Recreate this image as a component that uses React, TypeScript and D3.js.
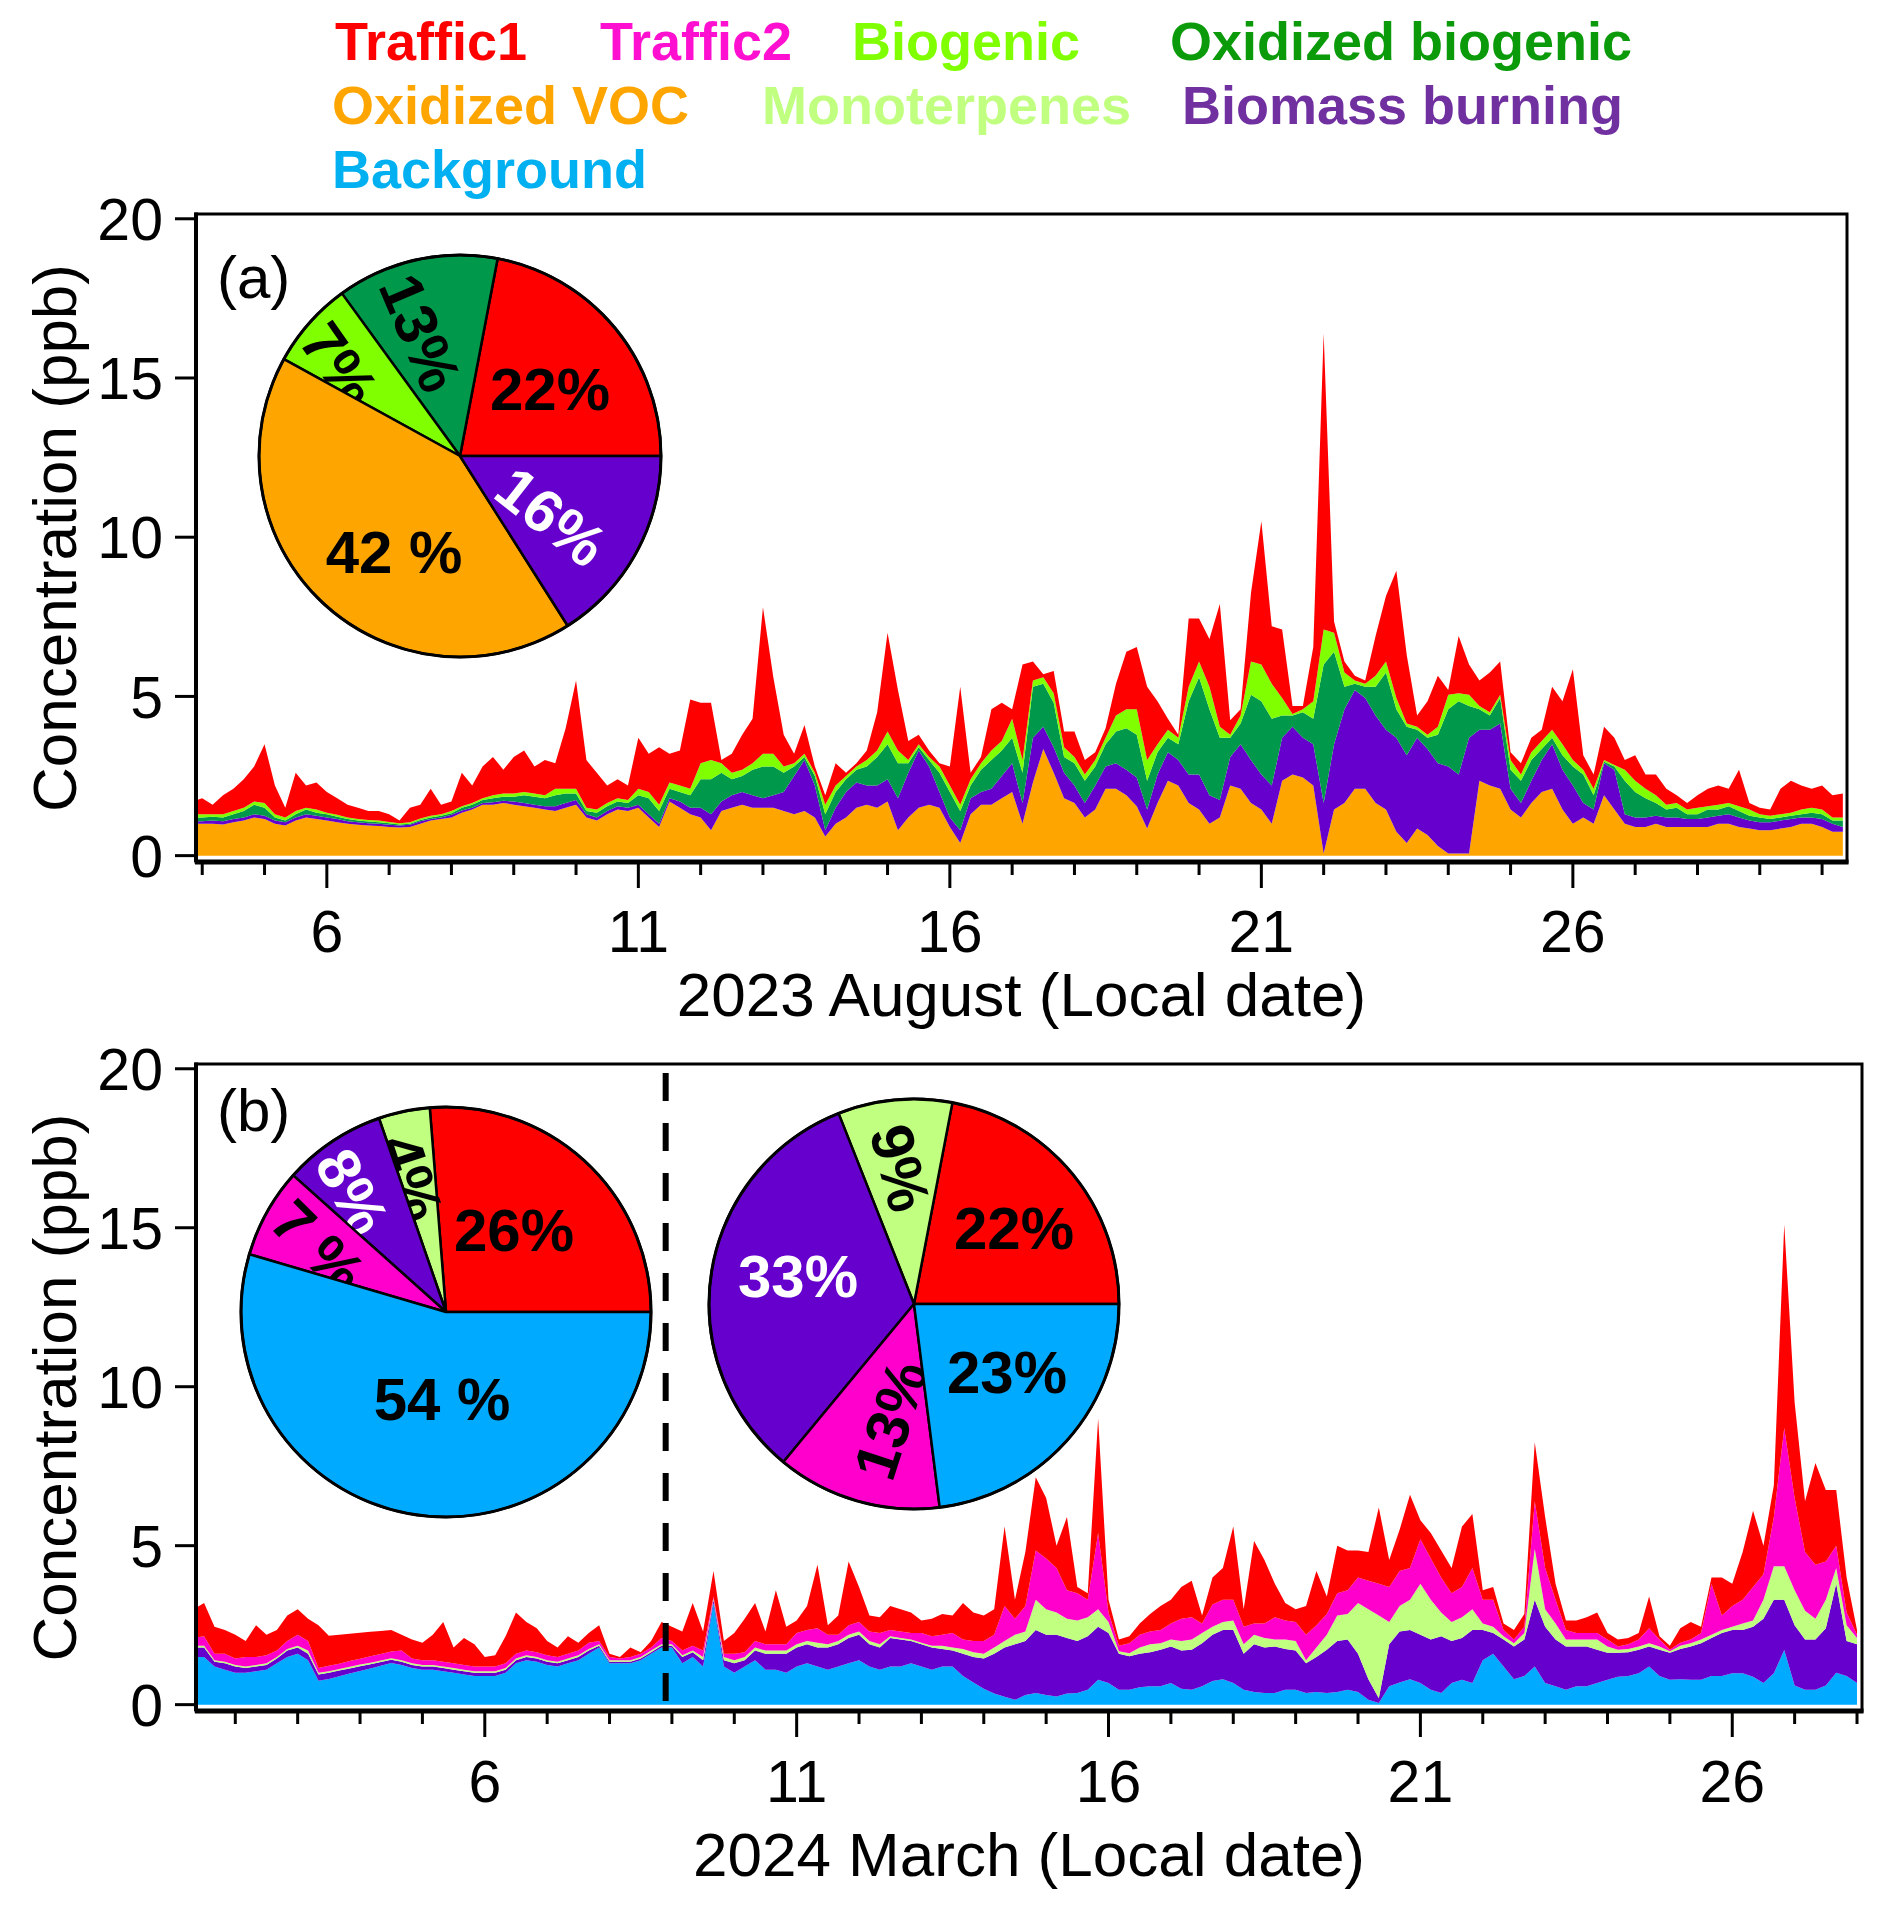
import * as d3 from "d3"

const W = 1892
const H = 1909
const FONT = "'Liberation Sans', Arial, Helvetica, sans-serif"

const COLORS = {
  traffic1: "#ff0000",
  traffic2: "#ff00cc",
  biogenic: "#80ff00",
  oxBio: "#00994c",
  ovoc: "#ffa500",
  mono: "#c0ff80",
  biomass: "#6600cc",
  background: "#00aaff",
}

// legend text
const legendLabels = [
  "Traffic1", "Traffic2", "Biogenic", "Oxidized biogenic",
  "Oxidized VOC", "Monoterpenes", "Biomass burning", "Background",
]
const legendColors = ["#ff0000", "#ff10d0", "#80ff00", "#0a9a0a", "#ffa500", "#c0ff80", "#7030a0", "#00b0f0"]

// ---------- (a) 2023 August, 4-hour steps from Aug 3 20:00 ----------
const augStart = 3 + 20 / 24
const ovocA = [
  1.0, 1.0, 1.0, 0.98, 1.05, 1.1, 1.2,
  1.15, 1.0, 0.95, 1.1, 1.2, 1.15,
  1.1, 1.05, 1.0, 0.97, 0.95, 0.93,
  0.9, 0.88, 0.9, 1.0, 1.1, 1.15,
  1.2, 1.35, 1.45, 1.6, 1.6, 1.65,
  1.6, 1.55, 1.5, 1.45, 1.4, 1.5,
  1.6, 1.2, 1.1, 1.3, 1.45, 1.4,
  1.5, 1.2, 0.9, 1.7, 1.5, 1.3,
  1.2, 0.8, 1.4, 1.5, 1.6, 1.5,
  1.5, 1.5, 1.4, 1.3, 1.4, 1.2,
  0.6, 1.0, 1.2, 1.5, 1.6, 1.5,
  1.7, 0.8, 1.2, 1.5, 1.6, 1.5,
  0.9, 0.4, 1.3, 1.6, 1.6, 1.8,
  2.0, 1.0, 2.3, 3.35, 2.6, 1.8,
  1.65, 1.2, 1.45, 2.1, 2.1, 1.9,
  1.55, 0.85, 1.65, 2.35, 2.2, 1.65,
  1.45, 1.0, 1.2, 2.2, 2.1, 1.65,
  1.45, 1.0, 2.35, 2.55, 2.45, 2.2,
  0.07, 1.45, 1.65, 2.1, 2.1, 1.65,
  1.45, 0.75, 0.4, 0.85, 0.65, 0.3,
  0.07, 0.07, 0.07, 2.35, 2.2, 2.1,
  1.45, 1.2, 1.65, 2.0, 2.1, 1.45,
  1.0, 1.2, 1.0, 1.9, 1.45, 1.0,
  0.9, 0.9, 1.0, 0.9, 0.9, 0.9,
  0.9, 0.9, 1.0, 1.0, 0.9, 0.85,
  0.8, 0.8, 0.85, 0.9, 1.0, 1.0,
  0.9, 0.75, 0.75,
]
const biomassA = [
  0.08, 0.08, 0.1, 0.1, 0.1, 0.1, 0.1,
  0.1, 0.1, 0.1, 0.1, 0.1, 0.1,
  0.1, 0.1, 0.08, 0.08, 0.07, 0.07,
  0.07, 0.07, 0.07, 0.08, 0.05, 0.05,
  0.08, 0.07, 0.05, 0.05, 0.08, 0.07,
  0.1, 0.1, 0.1, 0.1, 0.15, 0.15,
  0.15, 0.1, 0.1, 0.1, 0.1, 0.1,
  0.1, 0.1, 0.1, 0.1, 0.2, 0.2,
  0.3, 0.5, 0.3, 0.4, 0.4, 0.4,
  0.3, 0.4, 0.6, 1.2, 1.6, 1.0,
  0.2, 0.5, 0.8, 0.8, 0.6, 0.7,
  0.7, 1.0, 1.4, 1.8, 1.2, 0.5,
  0.3, 0.4, 0.5, 0.4, 0.5, 0.7,
  0.9, 0.65, 1.4, 0.7, 0.8, 0.8,
  0.55, 0.45, 0.75, 0.7, 0.8, 0.8,
  0.9, 0.6, 0.9, 0.9, 0.8, 0.9,
  1.1, 0.9, 0.55, 0.9, 1.4, 1.35,
  1.1, 1.2, 1.35, 1.5, 1.25, 1.3,
  1.58, 2.05, 2.95, 3.1, 2.85, 2.75,
  2.5, 2.95, 2.75, 2.85, 2.7, 2.6,
  2.73, 2.48, 3.63, 1.6, 1.75, 2.05,
  0.65, 0.45, 0.7, 1.0, 1.4, 1.25,
  1.2, 0.45, 0.45, 1.0, 1.25, 0.3,
  0.3, 0.3, 0.25, 0.3, 0.3, 0.25,
  0.25, 0.3, 0.25, 0.3, 0.3, 0.25,
  0.25, 0.25, 0.25, 0.25, 0.2, 0.2,
  0.25, 0.25, 0.15,
]
const oxBioA = [
  0.12, 0.12, 0.12, 0.12, 0.15, 0.2, 0.3,
  0.25, 0.1, 0.05, 0.1, 0.15, 0.1,
  0.1, 0.07, 0.07, 0.05, 0.05, 0.05,
  0.05, 0.03, 0.03, 0.04, 0.05, 0.05,
  0.05, 0.08, 0.1, 0.1, 0.12, 0.13,
  0.15, 0.25, 0.25, 0.25, 0.35, 0.3,
  0.2, 0.1, 0.15, 0.15, 0.15, 0.15,
  0.3, 0.5, 0.4, 0.3, 0.3, 0.4,
  0.9, 1.1, 0.9, 0.5, 0.5, 0.8,
  1.0, 0.9, 0.6, 0.3, 0.1, 0.3,
  0.5, 0.5, 0.4, 0.4, 0.6, 0.9,
  1.1, 1.1, 0.3, 0.1, 0.2, 0.6,
  0.8, 0.6, 0.4, 0.7, 0.9, 0.8,
  0.8, 0.95, 1.6, 1.35, 1.4, 0.5,
  0.7, 0.7, 0.6, 0.7, 1.0, 1.3,
  1.35, 0.9, 0.7, 0.45, 0.5, 2.3,
  3.05, 2.7, 1.95, 0.6, 0.65, 2.05,
  2.3, 2.1, 0.7, 0.35, 0.8, 0.8,
  4.35, 2.9, 0.7, 0.2, 0.35, 0.9,
  1.8, 0.9, 0.9, 0.25, 0.35, 0.9,
  1.8, 2.3, 1.0, 0.65, 0.45, 0.8,
  0.6, 0.7, 0.65, 0.35, 0.2, 0.45,
  0.6, 0.9, 0.45, 0.05, 0.1, 1.05,
  0.8, 0.6, 0.4, 0.25, 0.3, 0.15,
  0.15, 0.25, 0.2, 0.25, 0.2, 0.15,
  0.15, 0.1, 0.1, 0.1, 0.1, 0.15,
  0.15, 0.1, 0.2,
]
const biogenicA = [
  0.1, 0.1, 0.08, 0.1, 0.1, 0.1, 0.1,
  0.15, 0.1, 0.1, 0.1, 0.05, 0.1,
  0.05, 0.06, 0.05, 0.05, 0.05, 0.05,
  0.04, 0.04, 0.05, 0.05, 0.05, 0.05,
  0.07, 0.05, 0.05, 0.05, 0.1, 0.1,
  0.1, 0.1, 0.1, 0.1, 0.2, 0.15,
  0.15, 0.1, 0.1, 0.1, 0.1, 0.1,
  0.2, 0.2, 0.2, 0.2, 0.2, 0.2,
  0.5, 0.6, 0.3, 0.2, 0.2, 0.2,
  0.4, 0.4, 0.2, 0.1, 0.1, 0.1,
  0.3, 0.2, 0.1, 0.1, 0.2, 0.2,
  0.4, 0.4, 0.1, 0.1, 0.1, 0.2,
  0.2, 0.2, 0.2, 0.2, 0.3, 0.3,
  0.6, 0.4, 0.2, 0.2, 0.3, 0.3,
  0.2, 0.2, 0.2, 0.2, 0.5, 0.6,
  0.8, 0.65, 0.25, 0.25, 0.2, 0.45,
  0.5, 0.7, 0.35, 0.1, 0.25, 1.05,
  1.15, 1.1, 0.55, 0.05, 0.1, 0.55,
  1.1, 0.6, 0.45, 0.1, 0.1, 0.35,
  0.35, 0.35, 0.1, 0.1, 0.1, 0.25,
  0.45, 0.25, 0.35, 0.1, 0.1, 0.1,
  0.3, 0.2, 0.25, 0.25, 0.25, 0.35,
  0.2, 0.15, 0.2, 0.05, 0.05, 0.35,
  0.35, 0.3, 0.25, 0.15, 0.15, 0.15,
  0.2, 0.1, 0.15, 0.1, 0.15, 0.2,
  0.1, 0.1, 0.1, 0.1, 0.15, 0.15,
  0.15, 0.1, 0.1,
]
const traffic1A = [
  0.4, 0.5, 0.3, 0.6, 0.7, 0.9, 1.1,
  1.85, 0.9, 0.3, 1.2, 0.7, 0.85,
  0.65, 0.52, 0.4, 0.35, 0.28, 0.3,
  0.24, 0.08, 0.45, 0.43, 0.85, 0.3,
  0.3, 1.05, 0.55, 1.0, 1.2, 0.75,
  1.15, 1.3, 0.85, 1.1, 0.8, 1.9,
  3.4, 1.5, 1.15, 0.55, 0.6, 0.45,
  1.6, 1.2, 1.8, 0.9, 1.1, 2.8,
  1.9, 1.8, 0.1, 0.6, 1.1, 1.4,
  4.6, 2.4, 1.0, 0.3, 0.9, 0.2,
  0.3, 0.7, 0.1, 0.1, 0.3, 1.2,
  3.1, 1.9, 0.6, 0.3, 0.2, 0.1,
  0.6, 3.7, 0.2, 0.2, 1.3, 1.2,
  0.3, 3.0, 0.6, 0.1, 0.7, 0.5,
  0.8, 0.45, 0.25, 0.3, 1.0, 1.8,
  1.95, 2.3, 1.35, 0.35, 0.1, 2.15,
  1.35, 1.5, 3.85, 0.45, 0.2, 2.15,
  4.5, 1.8, 2.15, 0.25, 0.1, 1.7,
  9.3, 0.35, 0.35, 0.15, 0.1, 1.25,
  2.05, 4.0, 2.15, 0.35, 1.05, 1.6,
  0.15, 1.8, 0.95, 0.8, 1.25, 1.05,
  0.25, 0.35, 0.45, 0.35, 1.35, 1.35,
  2.85, 0.45, 0.45, 1.05, 0.85, 0.3,
  0.8, 0.45, 0.65, 0.5, 0.25, 0.2,
  0.4, 0.55, 0.6, 0.45, 1.15, 0.2,
  0.2, 0.2, 0.8, 1.0, 0.75, 0.6,
  0.75, 0.7, 0.75,
]

// ---------- (b) 2024 March, 4-hour steps from Mar 1 08:00 ----------
const marStart = 1 + 8 / 24
const backgroundB = [
  1.5, 1.5, 1.2, 1.1,
  1.0, 1.0, 1.05, 1.1, 1.3, 1.5,
  1.6, 1.4, 0.75, 0.81, 0.89, 0.98,
  1.06, 1.14, 1.22, 1.31, 1.25, 1.15,
  1.1, 1.1, 1.05, 1.0, 0.95, 0.9,
  0.9, 0.9, 1.0, 1.3, 1.4, 1.35,
  1.25, 1.2, 1.3, 1.4, 1.6, 1.8,
  1.3, 1.3, 1.3, 1.4, 1.6, 1.8,
  1.8, 1.3, 1.5, 1.2, 3.2, 1.2,
  1.0, 1.2, 1.4, 1.1, 1.1, 1.0,
  1.2, 1.3, 1.2, 1.1, 1.2, 1.3,
  1.4, 1.2, 1.1, 1.2, 1.2, 1.3,
  1.2, 1.1, 1.2, 1.2, 0.9, 0.7,
  0.5, 0.35, 0.25, 0.15, 0.3, 0.37,
  0.3, 0.26, 0.35, 0.37, 0.47, 0.78,
  0.68, 0.47, 0.47, 0.55, 0.58, 0.58,
  0.68, 0.5, 0.47, 0.58, 0.74, 0.8,
  0.68, 0.47, 0.4, 0.37, 0.37, 0.47,
  0.47, 0.37, 0.4, 0.37, 0.4, 0.47,
  0.4, 0.15, 0.05, 0.58, 0.7, 0.8,
  0.68, 0.47, 0.37, 0.68, 0.78, 0.68,
  1.4, 1.6, 1.2, 0.8, 0.9, 1.2,
  0.68, 0.58, 0.47, 0.58, 0.58, 0.68,
  0.78, 0.88, 0.9, 0.99, 1.2, 0.9,
  0.78, 0.8, 0.78, 0.78, 0.9, 0.9,
  0.99, 0.99, 0.88, 0.68, 0.99, 1.72,
  0.6, 0.47, 0.47, 0.6, 1.0, 0.9,
  0.68,
]
const biomassB = [
  0.3, 0.3, 0.15, 0.2,
  0.2, 0.15, 0.15, 0.15, 0.15, 0.2,
  0.2, 0.2, 0.2, 0.19, 0.18, 0.16,
  0.15, 0.13, 0.12, 0.1, 0.1, 0.1,
  0.1, 0.1, 0.1, 0.1, 0.1, 0.1,
  0.1, 0.1, 0.1, 0.1, 0.1, 0.1,
  0.1, 0.1, 0.1, 0.1, 0.1, 0.05,
  0.05, 0.05, 0.05, 0.05, 0.05, 0.05,
  0.05, 0.2, 0.15, 0.2, 0.1, 0.2,
  0.3, 0.2, 0.3, 0.5, 0.5, 0.6,
  0.6, 0.6, 0.6, 0.7, 0.7, 0.8,
  0.8, 0.7, 0.7, 0.9, 0.85, 0.7,
  0.7, 0.7, 0.55, 0.5, 0.7, 0.8,
  0.95, 1.25, 1.55, 1.75, 1.7, 1.98,
  1.9, 1.94, 1.75, 1.63, 1.68, 1.67,
  1.57, 1.13, 1.05, 1.05, 1.07, 1.15,
  1.15, 1.2, 1.26, 1.35, 1.46, 1.55,
  1.67, 1.13, 1.5, 1.43, 1.46, 1.28,
  1.23, 0.93, 1.1, 1.36, 1.6, 1.58,
  1.2, 0.65, 0.15, 1.32, 1.6, 1.55,
  1.52, 1.58, 1.78, 1.32, 1.32, 1.67,
  0.95, 0.65, 0.85, 1.03, 1.15, 2.1,
  1.77, 1.47, 1.36, 1.25, 1.25, 1.05,
  0.85, 0.75, 0.75, 0.74, 0.63, 0.83,
  0.85, 0.95, 1.05, 1.15, 1.2, 1.35,
  1.36, 1.36, 1.57, 2.02, 2.31, 1.58,
  1.9, 1.58, 1.58, 1.8, 2.8, 1.1,
  1.22,
]
const monoB = [
  0.05, 0.05, 0.05, 0.05,
  0.05, 0.05, 0.05, 0.05, 0.05, 0.05,
  0.05, 0.1, 0.05, 0.05, 0.05, 0.05,
  0.05, 0.05, 0.05, 0.05, 0.05, 0.05,
  0.05, 0.05, 0.05, 0.05, 0.05, 0.05,
  0.05, 0.05, 0.05, 0.05, 0.05, 0.05,
  0.05, 0.05, 0.05, 0.05, 0.05, 0.05,
  0.05, 0.05, 0.05, 0.05, 0.05, 0.05,
  0.05, 0.05, 0.05, 0.1, 0.05, 0.1,
  0.1, 0.1, 0.1, 0.1, 0.1, 0.1,
  0.1, 0.1, 0.15, 0.1, 0.1, 0.1,
  0.1, 0.1, 0.1, 0.05, 0.05, 0.05,
  0.05, 0.05, 0.1, 0.1, 0.15, 0.15,
  0.15, 0.2, 0.2, 0.3, 0.3, 0.95,
  0.8, 0.7, 0.6, 0.65, 0.6, 0.55,
  0.35, 0.08, 0.1, 0.2, 0.25, 0.2,
  0.22, 0.3, 0.32, 0.32, 0.25, 0.25,
  0.3, 0.3, 0.3, 0.3, 0.22, 0.3,
  0.3, 0.1, 0.3, 0.47, 0.8, 0.8,
  1.6, 2.2, 2.6, 0.7, 0.8, 0.95,
  1.6, 1.25, 0.75, 0.6, 0.65, 0.65,
  0.2, 0.2, 0.1, 0.1, 0.2, 1.6,
  0.55, 0.5, 0.22, 0.22, 0.22, 0.32,
  0.2, 0.1, 0.1, 0.1, 0.1, 0.1,
  0.05, 0.1, 0.1, 0.12, 0.1, 0.1,
  0.1, 0.2, 0.2, 0.6, 1.05, 1.05,
  1.1, 0.9, 0.65, 0.9, 0.5, 0.5,
  0.2,
]
const traffic2B = [
  0.25, 0.3, 0.2, 0.25,
  0.2, 0.3, 0.25, 0.25, 0.2, 0.25,
  0.35, 0.3, 0.15, 0.17, 0.17, 0.18,
  0.18, 0.2, 0.2, 0.21, 0.3, 0.15,
  0.15, 0.15, 0.15, 0.15, 0.15, 0.15,
  0.15, 0.15, 0.15, 0.15, 0.15, 0.15,
  0.15, 0.15, 0.15, 0.15, 0.2, 0.1,
  0.1, 0.05, 0.1, 0.1, 0.1, 0.2,
  0.1, 0.15, 0.15, 0.2, 0.05, 0.1,
  0.2, 0.15, 0.2, 0.2, 0.2, 0.2,
  0.35, 0.35, 0.45, 0.3, 0.2, 0.3,
  0.3, 0.3, 0.35, 0.2, 0.2, 0.2,
  0.3, 0.3, 0.35, 0.45, 0.3, 0.35,
  0.4, 0.4, 1.1, 0.5, 0.8, 1.55,
  1.6, 1.4, 0.9, 0.85, 0.55, 2.4,
  0.3, 0.17, 0.31, 0.4, 0.4, 0.42,
  0.5, 0.7, 0.7, 0.3, 0.7, 0.7,
  0.65, 0.55, 0.35, 0.45, 0.7, 0.6,
  0.6, 0.8, 0.7, 0.65, 0.7, 0.75,
  0.8, 0.9, 1.0, 1.1, 1.1, 1.0,
  1.4, 1.3, 1.1, 0.9, 0.95, 1.3,
  0.75, 0.85, 0.2, 0.12, 0.2, 1.5,
  1.3, 0.75, 0.3, 0.2, 0.2, 0.2,
  0.22, 0.1, 0.15, 0.22, 0.47, 0.22,
  0.05, 0.1, 0.12, 0.2, 1.6, 0.45,
  0.65, 0.75, 1.05, 0.8, 1.55, 4.35,
  2.9, 1.85, 1.7, 1.2, 0.7, 0.4,
  0.1,
]
const traffic1B = [
  0.9, 1.05, 0.85, 0.75,
  0.75, 0.5, 1.0, 0.65, 0.65, 0.8,
  0.8, 0.7, 1.35, 0.95, 0.91, 0.86,
  0.82, 0.77, 0.73, 0.68, 0.5, 0.6,
  0.55, 0.8, 1.25, 0.5, 0.85, 0.7,
  0.3, 0.35, 0.85, 1.3, 0.9, 0.75,
  0.45, 0.3, 0.55, 0.25, 0.3, 0.5,
  0.1, 0.05, 0.3, 0.05, 0.2, 0.5,
  0.45, 0.6, 1.35, 0.6, 0.8, 0.4,
  0.65, 1.05, 1.2, 0.4, 1.7, 0.55,
  0.4, 0.75, 2.0, 0.3, 0.6, 2.0,
  1.1, 0.5, 0.5, 0.75, 0.7, 0.65,
  0.4, 0.55, 0.65, 0.55, 1.15, 0.9,
  0.8, 0.8, 2.5, 0.6, 1.7, 2.3,
  1.9, 0.7, 2.3, 0.2, 0.2, 3.6,
  0.4, 0.2, 0.22, 0.35, 0.55, 0.75,
  0.75, 1.0, 1.15, 0.25, 0.85, 1.0,
  2.3, 0.55, 2.6, 2.0, 1.05, 0.55,
  0.4, 0.9, 1.7, 0.55, 1.5, 1.25,
  0.85, 0.9, 2.4, 0.85, 1.3, 2.3,
  0.6, 0.8, 0.85, 0.8, 1.9, 1.7,
  0.3, 0.4, 0.2, 0.3, 0.4, 1.85,
  1.6, 0.5, 0.3, 0.4, 0.5, 0.65,
  0.2, 0.22, 0.2, 0.2, 1.0, 0.1,
  0.12, 0.45, 0.55, 0.2, 0.2, 1.2,
  0.7, 1.5, 2.4, 0.9, 1.0, 6.4,
  3.0, 1.6, 3.2, 2.25, 1.75, 1.1,
  0.15,
]

// pie shares (%)
const pieAValues = [22, 13, 7, 42, 16]
const pieALabels = ["22%", "13%", "7%", "42 %", "16%"]
const pieBLeftValues = [26, 4, 8, 7, 54]
const pieBLeftLabels = ["26%", "4%", "8%", "7 %", "54 %"]
const pieBRightValues = [22, 9, 33, 13, 23]
const pieBRightLabels = ["22%", "9%", "33%", "13%", "23%"]

const yTicks = [0, 5, 10, 15, 20]
const majorDays = [6, 11, 16, 21, 26]

type Layer = { key: string; values: number[]; color: string }
type LabelPos = { dx: number; dy: number; rot: number; fill: string }

const FRAME_L = 196

function Pie({ cx, cy, r, values, colors, labels, pos }: {
  cx: number; cy: number; r: number; values: number[]; colors: string[]; labels: string[]; pos: LabelPos[]
}) {
  // counter-clockwise from 3 o'clock
  const arcs = d3.pie<number>().sort(null).startAngle(Math.PI / 2).endAngle(Math.PI / 2 - 2 * Math.PI)(values)
  const arc = d3.arc<d3.PieArcDatum<number>>().innerRadius(0).outerRadius(r)
  return (
    <g transform={`translate(${cx},${cy})`}>
      {arcs.map((a, i) => (
        <g key={i}>
          <path d={arc(a) || ""} fill={colors[i]} stroke="#000" strokeWidth={2.5} strokeLinejoin="round" />
          <text
            transform={`translate(${pos[i].dx},${pos[i].dy}) rotate(${pos[i].rot})`}
            textAnchor="middle"
            dominantBaseline="central"
            fontFamily={FONT}
            fontWeight="bold"
            fontSize={60}
            fill={pos[i].fill}
          >
            {labels[i]}
          </text>
        </g>
      ))}
      <circle r={r} fill="none" stroke="#000" strokeWidth={3} />
    </g>
  )
}

function Panel({ id, top, bottom, right, xDomain, start, layers, firstDay, lastDay, title, tag, tagY, tickLabelY, titleY, children }: {
  id: string; top: number; bottom: number; right: number; xDomain: [number, number]; start: number
  layers: Layer[]; firstDay: number; lastDay: number; title: string; tag: string
  tagY: number; tickLabelY: number; titleY: number; children?: any
}) {
  const x = d3.scaleLinear().domain(xDomain).range([FRAME_L, right])
  const y = d3.scaleLinear().domain([-0.2, 20.15]).range([bottom, top])
  const n = layers[0].values.length
  const rows = d3.range(n).map((i) => {
    const row: Record<string, number> = { t: start + i / 6 }
    layers.forEach((l) => { row[l.key] = l.values[i] ?? 0 })
    return row
  })
  const stacked = d3.stack<Record<string, number>>().keys(layers.map((l) => l.key))(rows)
  const area = d3.area<d3.SeriesPoint<Record<string, number>>>()
    .x((d) => x(d.data.t))
    .y0((d) => y(d[0]))
    .y1((d) => y(d[1]))
  const days = d3.range(firstDay, lastDay + 1)
  const midY = (top + bottom) / 2
  return (
    <g>
      <defs>
        <clipPath id={`clip-${id}`}>
          <rect x={FRAME_L} y={top} width={right - FRAME_L} height={bottom - top} />
        </clipPath>
      </defs>
      <g clipPath={`url(#clip-${id})`}>
        {stacked.map((s, i) => (
          <path key={s.key} d={area(s) || ""} fill={layers[i].color} />
        ))}
      </g>
      {children}
      {/* frame */}
      <rect x={FRAME_L} y={top} width={right - FRAME_L} height={bottom - top} fill="none" stroke="#000" strokeWidth={3} />
      <line x1={FRAME_L - 1} x2={right + 1.5} y1={bottom} y2={bottom} stroke="#000" strokeWidth={5} />
      <line x1={FRAME_L} x2={FRAME_L} y1={top - 1.5} y2={bottom} stroke="#000" strokeWidth={4} />
      {/* y axis */}
      {yTicks.map((v) => (
        <g key={v}>
          <line x1={FRAME_L - 21} x2={FRAME_L} y1={y(v)} y2={y(v)} stroke="#000" strokeWidth={3} />
          <text x={FRAME_L - 33} y={y(v)} dy="0.36em" textAnchor="end" fontFamily={FONT} fontSize={59}>{v}</text>
        </g>
      ))}
      {/* x axis */}
      {days.map((d) => {
        const major = majorDays.includes(d)
        return (
          <line key={d} x1={x(d)} x2={x(d)} y1={bottom} y2={bottom + (major ? 26 : 13)} stroke="#000" strokeWidth={3} />
        )
      })}
      {majorDays.map((d) => (
        <text key={d} x={x(d)} y={tickLabelY} textAnchor="middle" fontFamily={FONT} fontSize={59}>{d}</text>
      ))}
      <text x={(FRAME_L + right) / 2} y={titleY} textAnchor="middle" fontFamily={FONT} fontSize={62}>{title}</text>
      <text transform={`translate(76,${midY}) rotate(-90)`} textAnchor="middle" fontFamily={FONT} fontSize={62}>
        Concentration (ppb)
      </text>
      <text x={217} y={tagY} fontFamily={FONT} fontSize={60}>{tag}</text>
    </g>
  )
}

export default function App() {
  const layersA: Layer[] = [
    { key: "ovoc", values: ovocA, color: COLORS.ovoc },
    { key: "biomass", values: biomassA, color: COLORS.biomass },
    { key: "oxBio", values: oxBioA, color: COLORS.oxBio },
    { key: "biogenic", values: biogenicA, color: COLORS.biogenic },
    { key: "traffic1", values: traffic1A, color: COLORS.traffic1 },
  ]
  const layersB: Layer[] = [
    { key: "background", values: backgroundB, color: COLORS.background },
    { key: "biomass", values: biomassB, color: COLORS.biomass },
    { key: "mono", values: monoB, color: COLORS.mono },
    { key: "traffic2", values: traffic2B, color: COLORS.traffic2 },
    { key: "traffic1", values: traffic1B, color: COLORS.traffic1 },
  ]
  const xB = d3.scaleLinear().domain([1.37, 28.08]).range([FRAME_L, 1862])

  const legendX = [335, 600, 852, 1170, 332, 762, 1182, 332]
  const legendY = [60, 60, 60, 60, 124, 124, 124, 188]

  return (
    <div style={{ position: "absolute", left: 0, top: 0 }}>
      <svg width={W} height={H} viewBox={`0 0 ${W} ${H}`} style={{ display: "block", background: "#fff" }}>
        <rect width={W} height={H} fill="#fff" />
        {legendLabels.map((l, i) => (
          <text key={l} x={legendX[i]} y={legendY[i]} fontFamily={FONT} fontWeight="bold" fontSize={54} fill={legendColors[i]}>
            {l}
          </text>
        ))}

        <Panel
          id="a" top={214} bottom={862} right={1847} xDomain={[3.9, 30.4]} start={augStart}
          layers={layersA} firstDay={4} lastDay={30} title="2023 August (Local date)" tag="(a)"
          tagY={298} tickLabelY={952} titleY={1016}
        >
          <Pie
            cx={460} cy={456} r={201} values={pieAValues} labels={pieALabels}
            colors={[COLORS.traffic1, COLORS.oxBio, COLORS.biogenic, COLORS.ovoc, COLORS.biomass]}
            pos={[
              { dx: 90, dy: -67, rot: 0, fill: "#000" },
              { dx: -40, dy: -123, rot: 67, fill: "#000" },
              { dx: -121, dy: -91, rot: 55, fill: "#000" },
              { dx: -66, dy: 96, rot: 0, fill: "#000" },
              { dx: 91, dy: 61, rot: 38, fill: "#fff" },
            ]}
          />
        </Panel>

        <Panel
          id="b" top={1064} bottom={1711} right={1862} xDomain={[1.37, 28.08]} start={marStart}
          layers={layersB} firstDay={2} lastDay={28} title="2024 March (Local date)" tag="(b)"
          tagY={1131} tickLabelY={1802} titleY={1876}
        >
          <line x1={xB(8.9)} x2={xB(8.9)} y1={1073} y2={1703} stroke="#000" strokeWidth={6} strokeDasharray="28 22" />
          <Pie
            cx={446} cy={1312} r={205} values={pieBLeftValues} labels={pieBLeftLabels}
            colors={[COLORS.traffic1, COLORS.mono, COLORS.biomass, COLORS.traffic2, COLORS.background]}
            pos={[
              { dx: 68, dy: -82, rot: 0, fill: "#000" },
              { dx: -35, dy: -134, rot: 72, fill: "#000" },
              { dx: -94, dy: -120, rot: 62, fill: "#fff" },
              { dx: -128, dy: -65, rot: 45, fill: "#000" },
              { dx: -4, dy: 87, rot: 0, fill: "#000" },
            ]}
          />
          <Pie
            cx={914} cy={1304} r={205} values={pieBRightValues} labels={pieBRightLabels}
            colors={[COLORS.traffic1, COLORS.mono, COLORS.biomass, COLORS.traffic2, COLORS.background]}
            pos={[
              { dx: 100, dy: -76, rot: 0, fill: "#000" },
              { dx: -14, dy: -136, rot: 75, fill: "#000" },
              { dx: -116, dy: -28, rot: 0, fill: "#fff" },
              { dx: -23, dy: 116, rot: -72, fill: "#000" },
              { dx: 93, dy: 68, rot: 0, fill: "#000" },
            ]}
          />
        </Panel>
      </svg>
    </div>
  )
}
